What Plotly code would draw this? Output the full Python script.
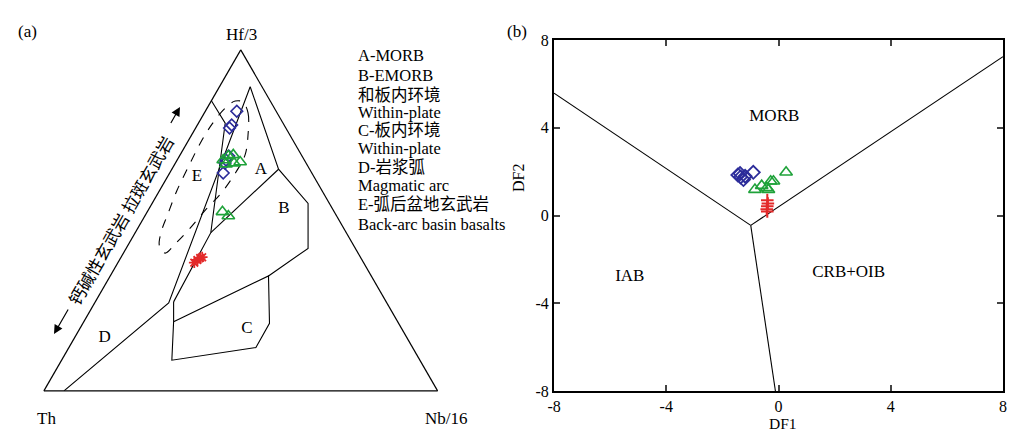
import plotly.graph_objects as go

# the page body adds an 8 px margin, so the figure is offset by 8 px on the page
W, H, OFF = 1008, 424, 8
SERIF = "Liberation Serif, Noto Sans CJK SC, serif"

# ---------------- Panel (a): Hf/3 - Th - Nb/16 ternary (percent; Th = 100 - Hf/3 - Nb/16)
# field boundaries (Hf/3 = a, Nb/16 = c)
line1_a = [85.1, 78.5, 46.4, 26.1]
line1_c = [0.0, 6.8, 19.2, 19.9]
line2_a = [89.2, 25.8, 0.0]
line2_c = [7.8, 18.8, 5.1]
line3_a = [89.2, 65.0, 55.0, 41.8, 33.7]
line3_c = [7.8, 27.1, 39.6, 46.2, 40.2]
line4_a = [65.0, 46.4]
line4_c = [27.1, 19.2]
fieldC_a = [26.1, 20.3, 9.0, 12.7, 19.8, 33.7, 20.3]
fieldC_c = [19.9, 22.8, 28.0, 47.5, 47.4, 40.2, 22.8]
# back-arc basin (dashed) outline
backarc_a = [84.7, 81.5, 75.1, 69.2, 64.2, 58.3, 53.0, 47.8, 43.1, 40.4, 42.5, 46.6,
             51.6, 58.9, 66.3, 72.7, 78.3, 83.0, 85.0, 84.7]
backarc_c = [8.2, 11.1, 14.3, 16.5, 16.7, 16.1, 14.5, 13.3, 11.8, 10.6, 8.1, 6.5,
             5.6, 4.4, 3.8, 3.4, 3.6, 4.6, 6.1, 8.2]
# field labels
field_labels = ["A", "B", "C", "D", "E"]
field_a = [64.8, 53.3, 18.3, 15.7, 62.8]
field_c = [22.7, 34.3, 42.4, 7.6, 7.5]

# samples
blue_a = [82.0, 78.0, 77.1, 68.9, 67.7, 66.8, 63.9]
blue_c = [8.0, 8.7, 8.6, 12.5, 12.4, 12.6, 13.6]
green_a = [67.7, 68.9, 69.2, 67.1, 66.8, 66.5, 52.5, 51.3]
green_c = [11.7, 12.4, 13.5, 16.3, 14.9, 13.0, 19.1, 21.2]
red_a = [37.6, 38.4, 39.0, 39.2]
red_c = [19.4, 19.8, 20.2, 20.6]

# ---------------- Panel (b): DF1 - DF2
bound_left_x = [-8.0, -0.99]
bound_left_y = [5.58, -0.45]
bound_right_x = [-0.99, 8.0]
bound_right_y = [-0.45, 7.24]
bound_low_x = [-0.99, -0.11]
bound_low_y = [-0.45, -8.0]
b_labels = ["MORB", "IAB", "CRB+OIB"]
b_lab_x = [-0.15, -5.3, 2.5]
b_lab_y = [4.5, -2.8, -2.6]

blue_df1 = [-1.37, -1.19, -1.25, -0.90, -1.35, -1.45]
blue_df2 = [1.91, 1.79, 1.64, 1.97, 1.76, 1.85]
green_df1 = [-0.84, -0.60, -0.42, -0.28, -0.18, 0.27, -0.36]
green_df2 = [1.18, 1.36, 1.26, 1.56, 1.56, 1.97, 1.18]
red_df1 = [-0.40, -0.38, -0.40, -0.42, -0.40]
red_df2 = [0.70, 0.55, 0.42, 0.28, 0.18]

ticks_b = [-8, -4, 0, 4, 8]
tick_text_b = ["-8", "-4", "0", "4", "8"]

legend_lines = ["A-MORB", "B-EMORB", "和板内环境", "Within-plate", "C-板内环境",
                "Within-plate", "D-岩浆弧", "Magmatic arc", "E-弧后盆地玄武岩",
                "Back-arc basin basalts"]

BLUE = "#2c2c9a"
GREEN = "#1fa23a"
RED = "#e32a2a"

fig = go.Figure()

def tline(a, c, dash="solid", shape="linear"):
    fig.add_trace(go.Scatterternary(a=a, c=c, mode="lines", subplot="ternary",
                                    line=dict(color="black", width=1.1, dash=dash, shape=shape),
                                    hoverinfo="skip", showlegend=False))

tline(line1_a, line1_c)
tline(line2_a, line2_c)
tline(line3_a, line3_c)
tline(line4_a, line4_c)
tline(fieldC_a, fieldC_c)
tline(backarc_a, backarc_c, dash="dash", shape="spline")

fig.add_trace(go.Scatterternary(a=field_a, c=field_c, text=field_labels, mode="text",
                                textfont=dict(family=SERIF, size=17, color="black"),
                                hoverinfo="skip", showlegend=False))
fig.add_trace(go.Scatterternary(a=blue_a, c=blue_c, mode="markers", showlegend=False,
                                marker=dict(symbol="diamond-open", size=9, color=BLUE,
                                            line=dict(width=1.6, color=BLUE))))
fig.add_trace(go.Scatterternary(a=green_a, c=green_c, mode="markers", showlegend=False,
                                marker=dict(symbol="triangle-up-open", size=11, color=GREEN,
                                            line=dict(width=1.6, color=GREEN))))
fig.add_trace(go.Scatterternary(a=red_a, c=red_c, mode="markers", showlegend=False,
                                marker=dict(symbol="asterisk-open", size=9, color=RED,
                                            line=dict(width=1.8, color=RED))))

# panel (b)
for bx, by in [(bound_left_x, bound_left_y), (bound_right_x, bound_right_y), (bound_low_x, bound_low_y)]:
    fig.add_trace(go.Scatter(x=bx, y=by, mode="lines", line=dict(color="black", width=1.1),
                             hoverinfo="skip", showlegend=False))
fig.add_trace(go.Scatter(x=b_lab_x, y=b_lab_y, text=b_labels, mode="text",
                         textfont=dict(family=SERIF, size=17, color="black"),
                         hoverinfo="skip", showlegend=False))
fig.add_trace(go.Scatter(x=blue_df1, y=blue_df2, mode="markers", showlegend=False,
                         marker=dict(symbol="diamond-open", size=10, color=BLUE,
                                     line=dict(width=1.8, color=BLUE))))
fig.add_trace(go.Scatter(x=green_df1, y=green_df2, mode="markers", showlegend=False,
                         marker=dict(symbol="triangle-up-open", size=11, color=GREEN,
                                     line=dict(width=1.6, color=GREEN))))
fig.add_trace(go.Scatter(x=red_df1, y=red_df2, mode="markers", showlegend=False,
                         marker=dict(symbol="cross-thin-open", size=9, color=RED,
                                     line=dict(width=2, color=RED))))

# page position -> paper fraction
def px(x):
    return (x - OFF) / W

def py(y):
    return 1 - (y - OFF) / H

ann = []
def text(x, y, t, size=15, xanchor="center", angle=0):
    ann.append(dict(x=px(x), y=py(y), xref="paper", yref="paper", text=t, showarrow=False,
                    xanchor=xanchor, yanchor="middle", textangle=angle,
                    font=dict(family=SERIF, size=size, color="black")))

text(27, 32, "(a)", 17)
text(517, 32, "(b)", 17)
text(241, 35, "Hf/3", 17)
text(46, 418, "Th", 17)
text(446, 418, "Nb/16", 17)
legend_y = [56, 76, 95, 113, 130, 148, 167, 186, 205, 224]
for ly, t in zip(legend_y, legend_lines):
    text(356, ly, t, 16.5, xanchor="left")
text(783, 423, "DF1", 15.5)
text(518, 178, "DF2", 16, angle=-90)
text(121.5, 221, "钙碱性玄武岩 拉斑玄武岩", 17, angle=-60)
# arrows along the Th - Hf/3 side
ann.append(dict(x=px(54), y=py(334), xref="paper", yref="paper", text="", showarrow=True,
                ax=15, ay=-26, arrowhead=2, arrowsize=1.5, arrowwidth=1.2, arrowcolor="black"))
ann.append(dict(x=px(180), y=py(107), xref="paper", yref="paper", text="", showarrow=True,
                ax=-10, ay=17.5, arrowhead=2, arrowsize=1.5, arrowwidth=1.2, arrowcolor="black"))

tern_axis = dict(showticklabels=False, ticks="", showgrid=False, showline=True,
                 linecolor="black", linewidth=1.2, title=dict(text=""), min=0)

fig.update_layout(
    width=W, height=H, autosize=False,
    margin=dict(l=0, r=0, t=0, b=0, pad=0, autoexpand=False),
    paper_bgcolor="white", plot_bgcolor="white",
    ternary=dict(sum=100, domain=dict(x=[0.0109, 0.4509], y=[0.097, 0.9012]),
                 bgcolor="white", aaxis=tern_axis, baxis=tern_axis, caxis=tern_axis),
    xaxis=dict(domain=[0.5417, 0.9871], range=[-8, 8], tickvals=ticks_b, ticktext=tick_text_b,
               ticks="inside", ticklen=6, tickwidth=1.5, showline=True, linewidth=2,
               linecolor="black", mirror="ticks", showgrid=False, zeroline=False,
               automargin=False, tickfont=dict(family=SERIF, size=16, color="black")),
    yaxis=dict(domain=[0.0967, 0.9245], range=[-8, 8], tickvals=ticks_b, ticktext=tick_text_b,
               ticks="inside", ticklen=6, tickwidth=1.5, showline=True, linewidth=2,
               linecolor="black", mirror="ticks", showgrid=False, zeroline=False,
               automargin=False, tickfont=dict(family=SERIF, size=16, color="black")),
    annotations=ann,
)

fig.write_html("out.html")
